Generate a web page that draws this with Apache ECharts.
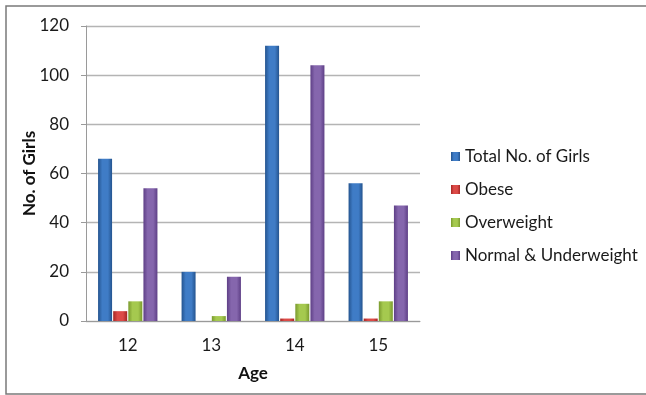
<!DOCTYPE html>
<html>
<head>
<meta charset="utf-8">
<script src="https://cdn.jsdelivr.net/npm/echarts@6/dist/echarts.min.js"></script>
<style>
  html, body { margin: 0; padding: 0; background: #fff; }
  #chart { width: 646px; height: 395px; }
</style>
</head>
<body>
<div id="chart"></div>
<script>
// Age groups on the category axis
const ages = ['12', '13', '14', '15'];

// Counts of girls per age group
const totalGirls = [66, 20, 112, 56];
const obese = [4, 0, 1, 1];
const overweight = [8, 2, 7, 8];
const normalUnderweight = [54, 18, 104, 47];

const seriesNames = ['Total No. of Girls', 'Obese', 'Overweight', 'Normal & Underweight'];

// Bevelled look: darker edges, lighter middle
function bevel(dark, light) {
  return new echarts.graphic.LinearGradient(0, 0, 1, 0, [
    { offset: 0, color: dark },
    { offset: 0.3, color: light },
    { offset: 0.7, color: light },
    { offset: 1, color: dark }
  ]);
}

const palette = [
  bevel('#24548f', '#3f7cc6'),
  bevel('#a52624', '#dc4a47'),
  bevel('#7a9a2e', '#a5c94f'),
  bevel('#5e3f86', '#8566ad')
];

const values = [totalGirls, obese, overweight, normalUnderweight];

const chart = echarts.init(document.getElementById('chart'));

chart.setOption({
  animation: false,
  textStyle: { fontFamily: 'Lato, "Liberation Sans", sans-serif' },
  graphic: [{
    type: 'rect',
    shape: { x: 6, y: 6, width: 660, height: 388 },
    style: { fill: 'none', stroke: '#7a7a7a', lineWidth: 1.5 },
    silent: true
  }],
  grid: { left: 86, right: 226, top: 26, bottom: 74 },
  legend: {
    orient: 'vertical',
    left: 446,
    top: 143,
    itemWidth: 9,
    itemHeight: 9,
    itemGap: 16,
    icon: 'rect',
    textStyle: { fontSize: 17, color: '#1a1a1a', fontFamily: 'Lato, sans-serif' },
    data: seriesNames
  },
  xAxis: {
    type: 'category',
    data: ages,
    name: 'Age',
    nameLocation: 'middle',
    nameGap: 44,
    nameTextStyle: { fontSize: 17, fontWeight: 'bold', color: '#111' },
    axisLine: { lineStyle: { color: '#9a9a9a' } },
    axisTick: { show: false },
    axisLabel: { fontSize: 17, color: '#1a1a1a', margin: 16 }
  },
  yAxis: {
    type: 'value',
    min: 0,
    max: 120,
    interval: 20,
    name: 'No. of Girls',
    nameLocation: 'middle',
    nameGap: 48,
    nameRotate: 90,
    nameMoveOverlap: false,
    nameTextStyle: { fontSize: 17, fontWeight: 'bold', color: '#111' },
    axisLine: { show: true, lineStyle: { color: '#9a9a9a' } },
    axisTick: { show: true, length: 5, lineStyle: { color: '#9a9a9a' } },
    axisLabel: { fontSize: 17, color: '#1a1a1a', margin: 17 },
    splitLine: { lineStyle: { color: '#b4b4b4', width: 1.3 } }
  },
  series: seriesNames.map((name, i) => ({
    name: name,
    type: 'bar',
    data: values[i],
    barWidth: 14,
    barGap: '8%',
    itemStyle: { color: palette[i] }
  }))
});
</script>
</body>
</html>
